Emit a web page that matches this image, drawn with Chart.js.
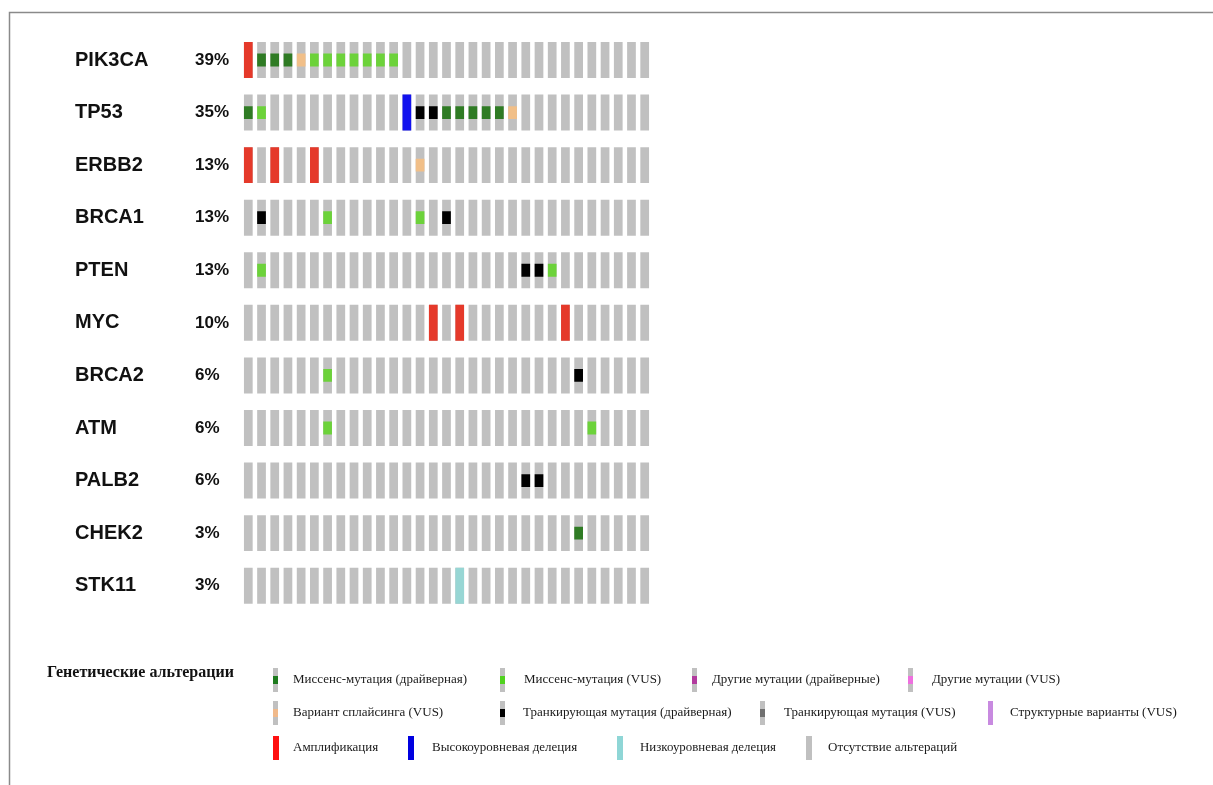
<!DOCTYPE html>
<html><head><meta charset="utf-8">
<script src="https://cdn.jsdelivr.net/npm/chart.js@4"></script>
<style>html,body{margin:0;padding:0;background:#fff;}</style>
</head><body>
<canvas id="c" width="1213" height="785"></canvas>
<script>
// ---------- DATA ----------
const genes = ['PIK3CA','TP53','ERBB2','BRCA1','PTEN','MYC','BRCA2','ATM','PALB2','CHEK2','STK11'];
const percentLabels = ['39%','35%','13%','13%','13%','10%','6%','6%','6%','3%','3%'];
const samples = ['S1','S2','S3','S4','S5','S6','S7','S8','S9','S10','S11','S12','S13','S14','S15','S16',
                 'S17','S18','S19','S20','S21','S22','S23','S24','S25','S26','S27','S28','S29','S30','S31'];
// [gene, sample number]
const amplification   = [['PIK3CA',1],['ERBB2',1],['ERBB2',3],['ERBB2',6],['MYC',15],['MYC',17],['MYC',25]];
const deepDeletion    = [['TP53',13]];
const shallowDeletion = [['STK11',17]];
const missenseDriver  = [['PIK3CA',2],['PIK3CA',3],['PIK3CA',4],['TP53',1],['TP53',16],['TP53',17],['TP53',18],['TP53',19],['TP53',20],['CHEK2',26]];
const missenseVUS     = [['PIK3CA',6],['PIK3CA',7],['PIK3CA',8],['PIK3CA',9],['PIK3CA',10],['PIK3CA',11],['PIK3CA',12],
                         ['TP53',2],['BRCA1',7],['BRCA1',14],['PTEN',2],['PTEN',24],['BRCA2',7],['ATM',7],['ATM',27]];
const spliceVUS       = [['PIK3CA',5],['TP53',21],['ERBB2',14]];
const truncDriver     = [['TP53',14],['TP53',15],['BRCA1',2],['BRCA1',16],['PTEN',22],['PTEN',23],['BRCA2',26],['PALB2',22],['PALB2',23]];
const legendTitle = 'Генетические альтерации';
const legendLabels = ['Миссенс-мутация (драйверная)','Миссенс-мутация (VUS)','Другие мутации (драйверные)','Другие мутации (VUS)',
                      'Вариант сплайсинга (VUS)','Транкирующая мутация (драйверная)','Транкирующая мутация (VUS)','Структурные варианты (VUS)',
                      'Амплификация','Высокоуровневая делеция','Низкоуровневая делеция','Отсутствие альтераций'];

// ---------- STYLE ----------
const C = {
  none:'#c0c0c0', amp:'#e5392a', deep:'#1212ee', shallow:'#97d6d4',
  misD:'#2f7b24', misV:'#6cd23a', splice:'#f1bf88', truncD:'#000000'
};
const legendColors = ['#1d7a1d','#50d21e','#b23a9e','#ee6fdf','#f0b98a','#000000','#6f6f6f','#c88ae0','#ff1010','#0000e0','#8fd6d6','#c0c0c0'];
const legendKinds  = ['m','m','m','m','m','m','m','f','f','f','f','f'];

const FULL = 0.342, SMALL = 0.122;
function bars(list, half){
  return list.map(([g,s]) => { const i = genes.indexOf(g); return {x: samples[s-1], y:[i-half, i+half]}; });
}
const background = [];
genes.forEach((g,i)=>samples.forEach(s=>background.push({x:s, y:[i-FULL, i+FULL]})));

const frame = {
  id:'frame',
  beforeDraw(chart){
    const ctx = chart.ctx; ctx.save();
    ctx.strokeStyle = '#8a8a8a'; ctx.lineWidth = 1.5;
    ctx.beginPath(); ctx.moveTo(9.5,785); ctx.lineTo(9.5,12.5); ctx.lineTo(1213,12.5); ctx.stroke();
    ctx.restore();
  }
};
const legendPos = [
  [273,293,680,180],[500,524,680,148],[692,712,680,172],[908,932,680,132],
  [273,293,713,156],[500,523,713,214],[760,784,713,176],[988,1010,713,174],
  [273,293,748,88],[408,432,748,150],[617,640,748,136],[806,828,748,134]
];
const legendPlugin = {
  id:'oncoLegend',
  afterDraw(chart){
    const ctx = chart.ctx; ctx.save();
    ctx.fillStyle = '#111'; ctx.font = 'bold 16px "Liberation Serif"'; ctx.textBaseline = 'middle'; ctx.textAlign='left';
    ctx.fillText(legendTitle, 47, 673, 190);
    ctx.font = '13px "Liberation Serif"';
    legendLabels.forEach((lab,k)=>{
      const [ix,tx,cy,w] = legendPos[k];
      if (legendKinds[k]==='m'){
        ctx.fillStyle = '#c0c0c0'; ctx.fillRect(ix, cy-12, 5, 24);
        ctx.fillStyle = legendColors[k]; ctx.fillRect(ix, cy-4, 5, 8);
      } else {
        ctx.fillStyle = legendColors[k]; ctx.fillRect(ix, cy-12, k===7?5:6, 24);
      }
      ctx.fillStyle = '#1a1a1a';
      ctx.fillText(lab, tx, cy, w);
    });
    ctx.restore();
  }
};

Chart.defaults.font.family = '"Liberation Sans", Arial, sans-serif';
new Chart(document.getElementById('c'), {
  type:'bar',
  data:{
    labels: samples,
    datasets:[
      {label:'Транкирующая мутация (драйверная)', data: bars(truncDriver,SMALL), backgroundColor:C.truncD},
      {label:'Вариант сплайсинга (VUS)', data: bars(spliceVUS,SMALL), backgroundColor:C.splice},
      {label:'Миссенс-мутация (VUS)', data: bars(missenseVUS,SMALL), backgroundColor:C.misV},
      {label:'Миссенс-мутация (драйверная)', data: bars(missenseDriver,SMALL), backgroundColor:C.misD},
      {label:'Низкоуровневая делеция', data: bars(shallowDeletion,FULL), backgroundColor:C.shallow},
      {label:'Высокоуровневая делеция', data: bars(deepDeletion,FULL), backgroundColor:C.deep},
      {label:'Амплификация', data: bars(amplification,FULL), backgroundColor:C.amp},
      {label:'Отсутствие альтераций', data: background, backgroundColor:C.none}
    ]
  },
  options:{
    responsive:false, animation:false,
    layout:{padding:{left:75, top:33.7, right:561.7, bottom:173}},
    datasets:{bar:{grouped:false, barPercentage:0.66, categoryPercentage:1, borderWidth:0}},
    plugins:{legend:{display:false}, tooltip:{enabled:false}},
    scales:{
      x:{type:'category', display:false, offset:true, grid:{display:false}},
      y:{type:'linear', position:'left', weight:2, min:-0.5, max:10.5, reverse:true,
         grid:{display:false, drawTicks:false}, border:{display:false},
         afterBuildTicks:s=>{ s.ticks = genes.map((g,i)=>({value:i})); },
         afterFit:s=>{ s.width = 120; },
         ticks:{crossAlign:'far', padding:0, autoSkip:false, color:'#111',
                font:{size:20, weight:'bold'}, callback:v=>genes[v]}},
      yPct:{type:'linear', position:'left', weight:1, min:-0.5, max:10.5, reverse:true,
         grid:{display:false, drawTicks:false}, border:{display:false},
         afterBuildTicks:s=>{ s.ticks = percentLabels.map((p,i)=>({value:i})); },
         afterFit:s=>{ s.width = 46.7; },
         ticks:{crossAlign:'far', padding:0, autoSkip:false, color:'#111',
                font:{size:17, weight:'bold'}, callback:v=>percentLabels[v]}}
    }
  },
  plugins:[frame, legendPlugin]
});
</script>
</body></html>
